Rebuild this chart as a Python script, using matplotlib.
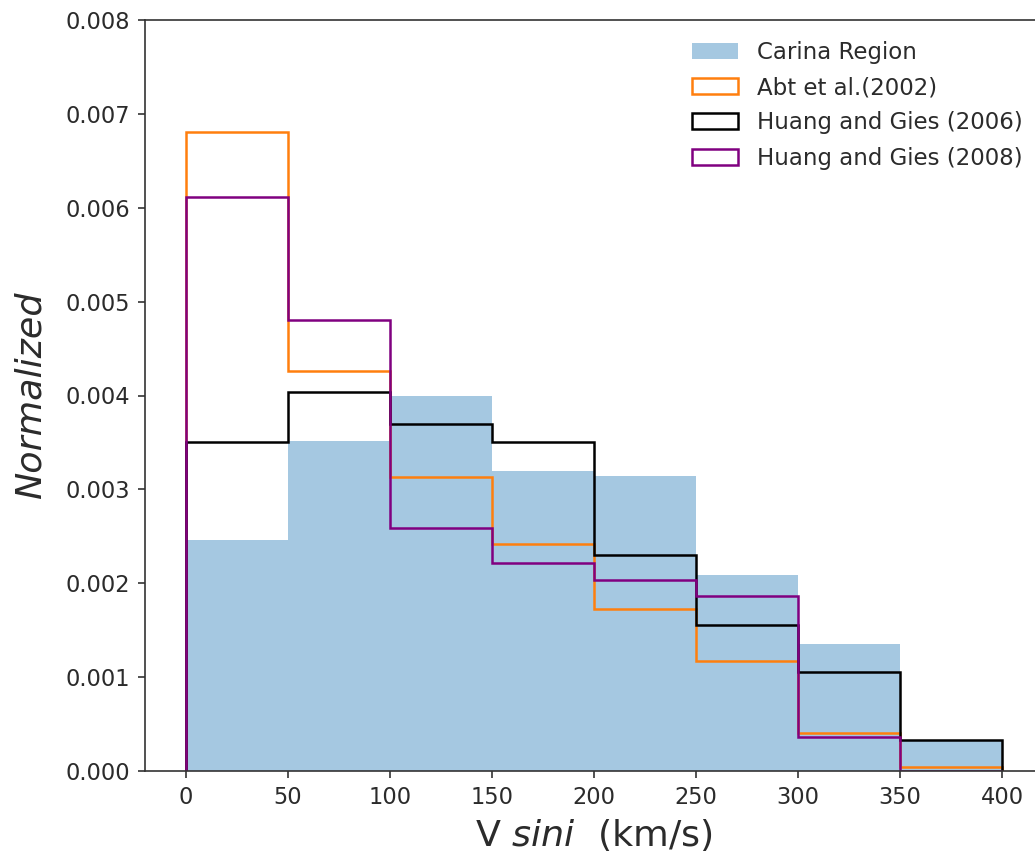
import matplotlib

matplotlib.use("Agg")
import matplotlib.pyplot as plt
import numpy as np

# bin edges in km/s and normalized densities per bin
bin_edges = [0, 50, 100, 150, 200, 250, 300, 350, 400]
carina = [0.00246, 0.00351, 0.00400, 0.00320, 0.00314, 0.00209, 0.00135, 0.00033]
abt_2002 = [0.00681, 0.00426, 0.00313, 0.00242, 0.00173, 0.00117, 0.00041, 0.00004]
huang_2006 = [0.00350, 0.00404, 0.00370, 0.00350, 0.00230, 0.00156, 0.00105, 0.00033]
huang_2008 = [0.00611, 0.00480, 0.00259, 0.00222, 0.00203, 0.00186, 0.00036, 0.0]

labels = ["Carina Region", "Abt et al.(2002)", "Huang and Gies (2006)", "Huang and Gies (2008)"]

centers = 0.5 * (np.array(bin_edges[:-1]) + np.array(bin_edges[1:]))
text_color = "#2b2b2b"

fig = plt.figure(figsize=(1035 / 150, 859 / 150), dpi=150)
ax = fig.add_axes([145 / 1035, 88 / 859, 898 / 1035, 751 / 859])

ax.hist(centers, bins=bin_edges, weights=carina, histtype="stepfilled",
        color="C0", alpha=0.4, label=labels[0])
ax.hist(centers, bins=bin_edges, weights=abt_2002, histtype="step",
        color="C1", linewidth=1.2, label=labels[1])
ax.hist(centers, bins=bin_edges, weights=huang_2006, histtype="step",
        color="black", linewidth=1.2, label=labels[2])
ax.hist(centers, bins=bin_edges, weights=huang_2008, histtype="step",
        color="purple", linewidth=1.2, label=labels[3])

ax.set_xlim(-20, 420)
ax.set_ylim(0, 0.008)
ax.set_xticks(np.arange(0, 401, 50))
ax.set_yticks(np.arange(0, 0.0081, 0.001))
ax.yaxis.set_major_formatter(matplotlib.ticker.FormatStrFormatter("%.3f"))
ax.tick_params(labelsize=10.8, labelcolor=text_color, color="#333333")
for spine in ax.spines.values():
    spine.set_edgecolor("#333333")

ax.set_xlabel(r"V $sini$  (km/s)", fontsize=17.5, color=text_color)
ax.set_ylabel("Normalized", fontsize=17.5, style="italic", color=text_color, labelpad=9)

leg = ax.legend(loc="upper right", frameon=False, fontsize=11, labelspacing=0.54)
for txt in leg.get_texts():
    txt.set_color(text_color)

fig.savefig("out.png", dpi=150)
